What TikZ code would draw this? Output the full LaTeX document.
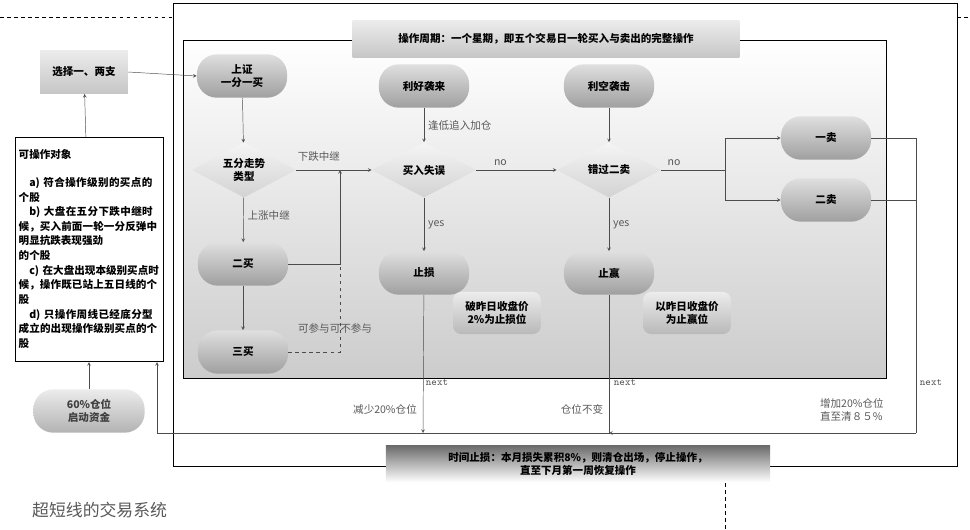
\documentclass[tikz,border=0pt]{standalone}
\usepackage{fontspec}
\setmainfont{Noto Sans CJK SC}
\XeTeXlinebreaklocale "zh"
\XeTeXlinebreakskip=0pt plus 1pt
\usetikzlibrary{shapes.geometric, arrows}
\tikzstyle{pill} = [rectangle, rounded corners=17, minimum width=77pt, minimum height=37pt, text centered, top color=gray!25, bottom color=gray!75, font=\bfseries\small, align=center]
\tikzstyle{choice} = [diamond, aspect=2, minimum width=89pt, minimum height=47pt, inner sep=0, text centered, top color=gray!8, bottom color=gray!35, font=\bfseries\small, align=center]
\tikzstyle{tag} = [rectangle, rounded corners=7, minimum width=75pt, minimum height=36pt, top color=gray!15, bottom color=gray!55, font=\bfseries\small, align=center]
\tikzstyle{plain} = [rectangle, top color=gray!15, bottom color=gray!45, font=\bfseries\small, align=center]
\tikzstyle{lbl} = [font=\small, text=gray!70!black]
\tikzstyle{arrow} = [draw=gray!60!black, ->, >=stealth]

\begin{document}
\begin{tikzpicture}[x=0.03cm, y=-0.03cm]
\useasboundingbox (0,0) rectangle (970,530);
\draw [dashed] (0,17) -- (173,17);
\draw [dashed] (957,17) -- (970,17);
\draw [dashed] (725,483) -- (725,530);
\draw [thick] (173,3) rectangle (957,466);
\shade [top color=white, bottom color=gray!40] (183,40) rectangle (886,378);
\draw [thick] (183,40) rectangle (886,378);
\node (cycle) [plain, minimum width=330pt, minimum height=32pt] at (546,39) {操作周期：一个星期，即五个交易日一轮买入与卖出的完整操作};
\node (select) [plain, minimum width=75pt, minimum height=37pt] at (84,72) {选择一、两支};
\node (objects) [draw, fill=white, minimum width=126pt, minimum height=191pt, text width=120pt, inner sep=3pt, anchor=north west, font=\bfseries\small] at (15,137) {\baselineskip=12.5pt 可操作对象\par\vspace{11pt}
\hspace*{1em}a) 符合操作级别的买点的个股\par
\hspace*{1em}b) 大盘在五分下跌中继时候，买入前面一轮一分反弹中明显抗跌表现强劲\par 的个股\par
\hspace*{1em}c) 在大盘出现本级别买点时候，操作既已站上五日线的个股\par
\hspace*{1em}d) 只操作周线已经底分型成立的出现操作级别买点的个股\par};
\node (fund) [pill, minimum width=95pt, top color=gray!15, bottom color=gray!60, text=gray!50!black] at (89,411) {60\%仓位\\启动资金};
\node (first) [pill] at (242,76) {上证\\一分一买};
\node (trend) [choice] at (244,170) {五分走势\\类型};
\node (second) [pill] at (243,264) {二买};
\node (third) [pill] at (243,352) {三买};
\node (good) [pill] at (424,86) {利好袭来};
\node (miss) [choice] at (424,170) {买入失误};
\node (loss) [pill] at (424,273) {止损};
\node (bad) [pill] at (609,86) {利空袭击};
\node (skip) [choice] at (609,170) {错过二卖};
\node (gain) [pill] at (609,273) {止赢};
\node (sellA) [pill] at (826,138) {一卖};
\node (sellB) [pill] at (826,200) {二卖};
\node (losstag) [tag] at (497,313) {破昨日收盘价\\2\%为止损位};
\node (gaintag) [tag] at (687,313) {以昨日收盘价\\为止赢位};
\node (stop) [rectangle, minimum width=328pt, minimum height=31pt, top color=gray!85!black, bottom color=white, font=\bfseries\small, align=center] at (578,464) {时间止损：本月损失累积8\%，则清仓出场，停止操作，\\直至下月第一周恢复操作};
\node (title) [anchor=west, font=\Large, text=gray!70!black] at (28,510) {超短线的交易系统};
\coordinate (join) at (340,170);
\coordinate (fork) at (725,170);
\coordinate (back) at (916,138);
\coordinate (losspt) at (423,433);
\coordinate (gainpt) at (609,433);
\draw [arrow] (objects) -- (select);
\draw [arrow] (fund) -- (89,362);
\draw [arrow] (select.east) -- (first.west);
\draw [arrow] (first) -- (trend);
\draw [arrow] (trend.east) -- node[lbl, above, pos=0.3, yshift=4]{下跌中继} (miss.west);
\draw [arrow] (trend) -- node[lbl, right, pos=0.4]{上涨中继} (second);
\draw [arrow] (second.east) -| (join);
\draw [dashed, gray!60!black] (third.east) -| (340,264);
\node (maybe) [lbl, anchor=west] at (294,328) {可参与可不参与};
\draw [arrow] (second) -- (third);
\draw [arrow] (good) -- node[lbl, right]{逢低追入加仓} (miss);
\draw [arrow] (miss.east) -- node[lbl, above, pos=0.3]{no} (skip.west);
\draw [arrow] (miss) -- node[lbl, right]{yes} (loss);
\draw [arrow] (bad) -- (skip);
\draw [arrow] (skip) -- node[lbl, right]{yes} (gain);
\draw [draw=gray!60!black] (skip.east) -- node[lbl, above, pos=0.2]{no} (fork);
\draw [arrow] (fork) |- (sellA.west);
\draw [arrow] (fork) |- (sellB.west);
\draw [draw=gray!60!black] (sellA.east) -- (back) -- (916,433);
\draw [draw=gray!60!black] (sellB.east) -- (916,200);
\draw [arrow] (916,433) -- (gainpt);
\draw [arrow] (loss) -- (losspt);
\draw [draw=gray!60!black] (gain) -- (gainpt) -- (losspt);
\draw [arrow] (losspt) -- (157,433) -- (157,362);
\node (next1) [lbl, font=\ttfamily\small] at (437,383) {next};
\node (next2) [lbl, font=\ttfamily\small] at (625,383) {next};
\node (next3) [lbl, font=\ttfamily\small] at (931,383) {next};
\node (less) [lbl] at (385,409) {减少20\%仓位};
\node (same) [lbl] at (582,409) {仓位不变};
\node (more) [lbl, align=left, anchor=west] at (816,410) {增加20\%仓位\\直至清８５\%};
\end{tikzpicture}
\end{document}
